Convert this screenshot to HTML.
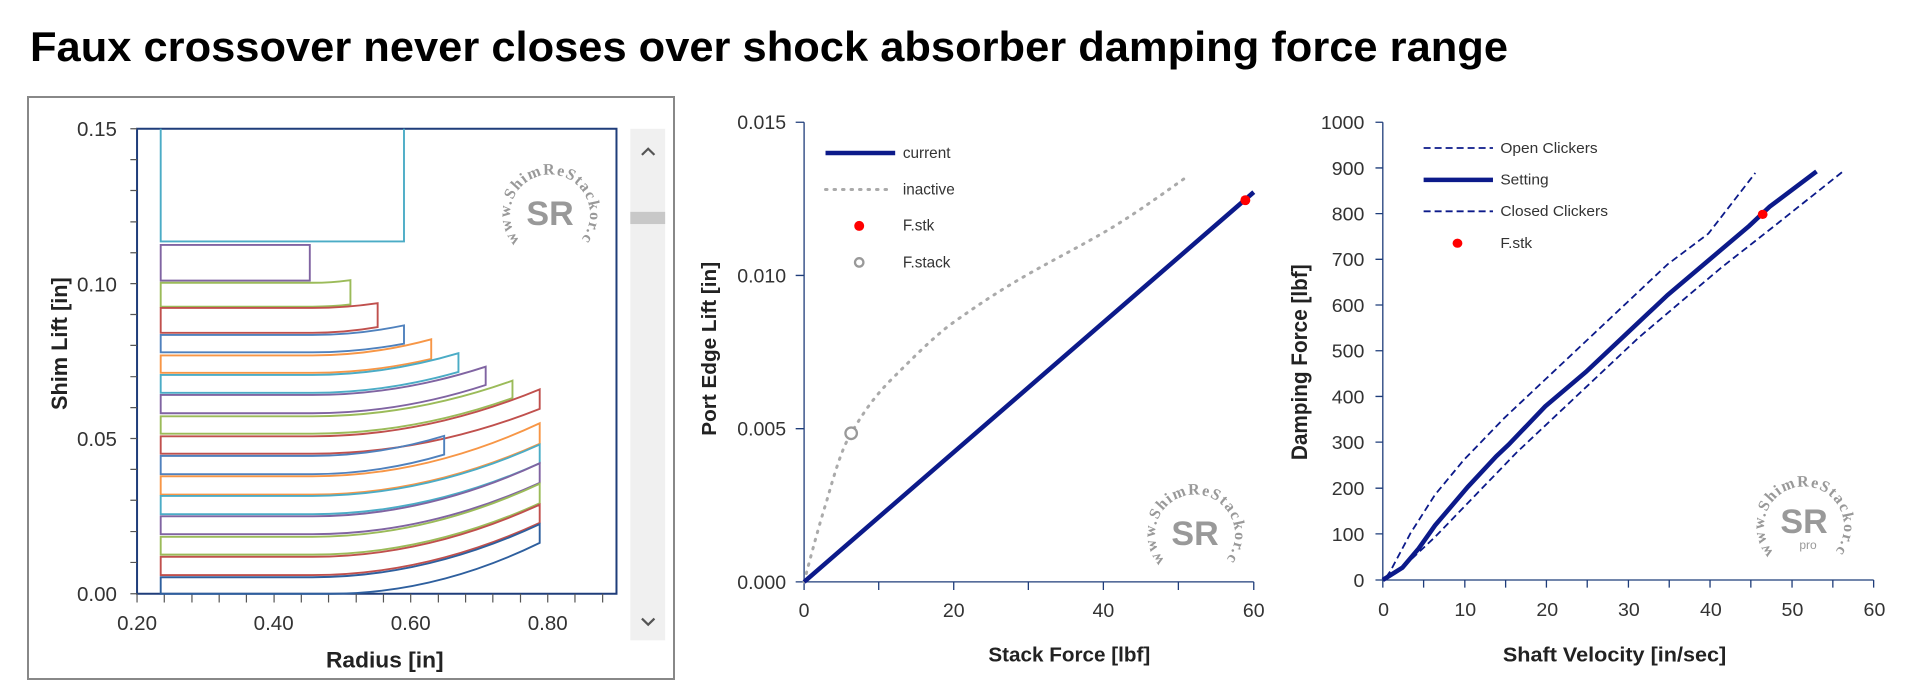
<!DOCTYPE html>
<html><head><meta charset="utf-8"><style>
html,body{margin:0;padding:0;background:#fff;}
svg{display:block;font-family:"Liberation Sans",sans-serif;}
</style></head><body>
<svg width="1920" height="682" viewBox="0 0 1920 682" xmlns="http://www.w3.org/2000/svg">
<defs>
<path id="lc" d="M -30 28 A 40 40 0 1 1 30 28"/>
</defs>
<text x="30" y="61" font-size="42" font-weight="bold" fill="#000" textLength="1478" lengthAdjust="spacingAndGlyphs">Faux crossover never closes over shock absorber damping force range</text>

<!-- LEFT CHART -->
<rect x="28" y="97" width="646" height="582" fill="none" stroke="#888" stroke-width="2"/>
<g transform="scale(0.4464,0.435)">
 <rect x="1412" y="296" width="78" height="1176" fill="#f0f0f0"/>
 <rect x="1412" y="487" width="78" height="28" fill="#c8c8c8"/>
 <path d="M1438 356 L1452 342 L1466 356" fill="none" stroke="#555" stroke-width="5"/>
 <path d="M1438 1422 L1452 1436 L1466 1422" fill="none" stroke="#555" stroke-width="5"/>
 <g fill="none" stroke-width="1.9">
  <rect x="307" y="296" width="1074" height="1069" stroke="#1f3d7a" vector-effect="non-scaling-stroke" stroke-width="2"/>
  <g stroke="#555" stroke-width="1.2">
   <path vector-effect="non-scaling-stroke" d="M292 296H307M292 367H307M292 438H307M292 510H307M292 581H307M292 652H307M292 723H307M292 794H307M292 866H307M292 937H307M292 1008H307M292 1079H307M292 1150H307M292 1222H307M292 1293H307M292 1365H307"/>
   <path vector-effect="non-scaling-stroke" d="M307 1365V1385M368 1365V1385M430 1365V1385M491 1365V1385M552 1365V1385M614 1365V1385M675 1365V1385M736 1365V1385M798 1365V1385M859 1365V1385M920 1365V1385M982 1365V1385M1043 1365V1385M1104 1365V1385M1166 1365V1385M1227 1365V1385M1288 1365V1385M1350 1365V1385"/>
  </g>
  <path vector-effect="non-scaling-stroke" stroke="#4bacc6" d="M360 296V555H905V296"/>
  <path vector-effect="non-scaling-stroke" stroke="#8064a2" d="M360 563H694V645H360Z"/>
  <path vector-effect="non-scaling-stroke" stroke="#9bbb59" d="M360 650L700 650Q742 650 785 644L785 700Q742 705 700 705L360 705Z"/>
  <path vector-effect="non-scaling-stroke" stroke="#c0504d" d="M360 708L700 708Q773 708 846 697L846 752Q773 765 700 765L360 765Z"/>
  <path vector-effect="non-scaling-stroke" stroke="#4f81bd" d="M360 770L700 770Q802 770 905 748L905 790Q802 810 700 810L360 810Z"/>
  <path vector-effect="non-scaling-stroke" stroke="#f79646" d="M360 817L700 817Q833 817 966 780L966 825Q833 857 700 857L360 857Z"/>
  <path vector-effect="non-scaling-stroke" stroke="#4bacc6" d="M360 862L700 862Q863 862 1027 812L1027 855Q863 903 700 903L360 903Z"/>
  <path vector-effect="non-scaling-stroke" stroke="#8064a2" d="M360 908L700 908Q894 908 1088 843L1088 885Q894 950 700 950L360 950Z"/>
  <path vector-effect="non-scaling-stroke" stroke="#9bbb59" d="M360 957L700 957Q924 957 1148 875L1148 915Q924 997 700 997L360 997Z"/>
  <path vector-effect="non-scaling-stroke" stroke="#c0504d" d="M360 1003L700 1003Q954 1003 1209 895L1209 940Q954 1043 700 1043L360 1043Z"/>
  <path vector-effect="non-scaling-stroke" stroke="#4f81bd" d="M360 1048L700 1048Q847 1048 995 1002L995 1045Q847 1090 700 1090L360 1090Z"/>
  <path vector-effect="non-scaling-stroke" stroke="#f79646" d="M360 1095L700 1095Q954 1095 1209 973L1209 1020Q954 1137 700 1137L360 1137Z"/>
  <path vector-effect="non-scaling-stroke" stroke="#4bacc6" d="M360 1140L700 1140Q954 1140 1209 1022L1209 1065Q954 1182 700 1182L360 1182Z"/>
  <path vector-effect="non-scaling-stroke" stroke="#8064a2" d="M360 1187L700 1187Q954 1187 1209 1065L1209 1110Q954 1228 700 1228L360 1228Z"/>
  <path vector-effect="non-scaling-stroke" stroke="#9bbb59" d="M360 1234L700 1234Q954 1234 1209 1112L1209 1157Q954 1275 700 1275L360 1275Z"/>
  <path vector-effect="non-scaling-stroke" stroke="#c0504d" d="M360 1280L700 1280Q954 1280 1209 1160L1209 1202Q954 1322 700 1322L360 1322Z"/>
  <path vector-effect="non-scaling-stroke" stroke="#2e5f9e" d="M360 1327L700 1327Q954 1327 1209 1205L1209 1248Q975 1365 740 1365L360 1365Z"/>
 </g>
 <g font-size="46" fill="#333" text-anchor="end">
  <text x="262" y="313">0.15</text><text x="262" y="670">0.10</text><text x="262" y="1025">0.05</text><text x="262" y="1382">0.00</text>
 </g>
 <g font-size="46" fill="#333" text-anchor="middle">
  <text x="307" y="1448">0.20</text><text x="613" y="1448">0.40</text><text x="920" y="1448">0.60</text><text x="1227" y="1448">0.80</text>
 </g>
 <text x="862" y="1534" font-size="51" font-weight="bold" text-anchor="middle" fill="#222">Radius [in]</text>
 <text transform="translate(150,790) rotate(-90)" font-size="50" font-weight="bold" text-anchor="middle" fill="#222">Shim Lift [in]</text>
</g>
<g transform="translate(550,213)" fill="#999">
 <text font-size="16" font-family="Liberation Serif,serif" font-weight="bold"><textPath href="#lc" textLength="205">www.ShimReStackor.com</textPath></text>
 <text y="12" font-size="34" font-weight="bold" text-anchor="middle">SR</text>
</g>

<!-- MIDDLE CHART -->
<g transform="translate(700,80) scale(0.3827,0.384)">
 <g stroke="#1f3d7a" stroke-width="1.3" fill="none">
  <path vector-effect="non-scaling-stroke" d="M272 110V1307H1447"/>
  <path vector-effect="non-scaling-stroke" d="M250 110H272M250 509H272M250 908H272M250 1307H272M272 1307V1328M467 1307V1328M663 1307V1328M858 1307V1328M1054 1307V1328M1250 1307V1328M1447 1307V1328"/>
 </g>
 <g font-size="51" fill="#333" text-anchor="end">
  <text x="225" y="128">0.015</text><text x="225" y="527">0.010</text><text x="225" y="926">0.005</text><text x="225" y="1325">0.000</text>
 </g>
 <g font-size="51" fill="#333" text-anchor="middle">
  <text x="272" y="1398">0</text><text x="663" y="1398">20</text><text x="1054" y="1398">40</text><text x="1447" y="1398">60</text>
 </g>
 <text x="965" y="1514" font-size="54" font-weight="bold" text-anchor="middle" fill="#222">Stack Force [lbf]</text>
 <text transform="translate(42,700) rotate(-90)" font-size="54" font-weight="bold" text-anchor="middle" fill="#222">Port Edge Lift [in]</text>
 <path d="M272 1307C300 1200 320 1130 330 1100C350 1030 370 960 395 920C430 860 460 820 500 780C560 720 600 680 650 640C720 590 780 550 850 510C920 470 980 440 1050 400C1120 360 1190 310 1268 255" fill="none" stroke="#aaa" stroke-width="3" vector-effect="non-scaling-stroke" stroke-dasharray="1.5 7" stroke-linecap="round"/>
 <path d="M272 1307L1447 292" stroke="#0c1a8a" stroke-width="4.5" vector-effect="non-scaling-stroke" fill="none"/>
 <circle cx="395" cy="920" r="15" fill="#fff" stroke="#999" stroke-width="6"/>
 <circle cx="1425" cy="313" r="13" fill="#f00"/>
 <path d="M328 190H510" stroke="#0c1a8a" stroke-width="4.5" vector-effect="non-scaling-stroke"/>
 <path d="M328 285H500" stroke="#aaa" stroke-width="3" vector-effect="non-scaling-stroke" stroke-dasharray="1.5 7" stroke-linecap="round"/>
 <circle cx="416" cy="380" r="13" fill="#f00"/>
 <circle cx="416" cy="475" r="11" fill="#fff" stroke="#999" stroke-width="6"/>
 <g font-size="40" fill="#333">
  <text x="530" y="203">current</text><text x="530" y="298">inactive</text><text x="530" y="392">F.stk</text><text x="530" y="488">F.stack</text>
 </g>
</g>
<g transform="translate(1195,533)" fill="#999">
 <text font-size="16" font-family="Liberation Serif,serif" font-weight="bold"><textPath href="#lc" textLength="205">www.ShimReStackor.com</textPath></text>
 <text y="12" font-size="34" font-weight="bold" text-anchor="middle">SR</text>
</g>

<!-- RIGHT CHART -->
<g transform="translate(1280,80) scale(0.408,0.384)">
 <g stroke="#1f3d7a" fill="none">
  <path vector-effect="non-scaling-stroke" stroke-width="1.3" d="M252 110V1302H1455"/>
  <path vector-effect="non-scaling-stroke" stroke-width="1.3" d="M234 110H252M234 229H252M234 348H252M234 467H252M234 586H252M234 705H252M234 824H252M234 943H252M234 1063H252M234 1182H252M234 1302H252M252 1302V1322M352 1302V1322M453 1302V1322M553 1302V1322M653 1302V1322M753 1302V1322M854 1302V1322M954 1302V1322M1054 1302V1322M1154 1302V1322M1255 1302V1322M1355 1302V1322M1455 1302V1322"/>
 </g>
 <g font-size="48" fill="#333" text-anchor="end">
  <text x="207" y="128">1000</text><text x="207" y="247">900</text><text x="207" y="366">800</text><text x="207" y="485">700</text><text x="207" y="604">600</text><text x="207" y="723">500</text><text x="207" y="842">400</text><text x="207" y="961">300</text><text x="207" y="1081">200</text><text x="207" y="1200">100</text><text x="207" y="1320">0</text>
 </g>
 <g font-size="48" fill="#333" text-anchor="middle">
  <text x="254" y="1396">0</text><text x="454" y="1396">10</text><text x="655" y="1396">20</text><text x="855" y="1396">30</text><text x="1056" y="1396">40</text><text x="1256" y="1396">50</text><text x="1457" y="1396">60</text>
 </g>
 <text x="820" y="1514" font-size="53" font-weight="bold" text-anchor="middle" fill="#222">Shaft Velocity [in/sec]</text>
 <text transform="translate(66,735) rotate(-90)" font-size="54" font-weight="bold" text-anchor="middle" fill="#222">Damping Force [lbf]</text>
 <g fill="none" stroke="#0c1a8a">
  <path vector-effect="non-scaling-stroke" stroke-width="1.8" stroke-dasharray="7 4" d="M260 1295L270 1280L320 1180L380 1080L450 990L550 880L650 780L750 680L850 580L950 480L1050 400L1165 242"/>
  <path vector-effect="non-scaling-stroke" stroke-width="1.8" stroke-dasharray="7 4" d="M260 1300L290 1280L380 1190L480 1080L580 970L680 870L780 770L880 670L980 580L1080 490L1200 390L1380 238"/>
  <path vector-effect="non-scaling-stroke" stroke-width="4.5" d="M252 1302L300 1270L340 1220L380 1160L460 1060L530 980L560 950L650 850L750 760L850 660L950 560L1050 470L1150 380L1200 330L1315 238"/>
  <path vector-effect="non-scaling-stroke" stroke-width="1.8" stroke-dasharray="7 4" d="M352 177H522M352 342H522"/>
  <path vector-effect="non-scaling-stroke" stroke-width="4.5" d="M352 260H522"/>
 </g>
 <circle cx="1183" cy="350" r="12" fill="#f00"/>
 <circle cx="435" cy="425" r="12" fill="#f00"/>
 <g font-size="38" fill="#333">
  <text x="540" y="190">Open Clickers</text><text x="540" y="272">Setting</text><text x="540" y="354">Closed Clickers</text><text x="540" y="438">F.stk</text>
 </g>
</g>
<g transform="translate(1804,525)" fill="#999">
 <text font-size="16" font-family="Liberation Serif,serif" font-weight="bold"><textPath href="#lc" textLength="205">www.ShimReStackor.com</textPath></text>
 <text y="8" font-size="34" font-weight="bold" text-anchor="middle">SR</text>
 <text y="24" x="4" font-size="12" text-anchor="middle">pro</text>
</g>
</svg>
</body></html>
